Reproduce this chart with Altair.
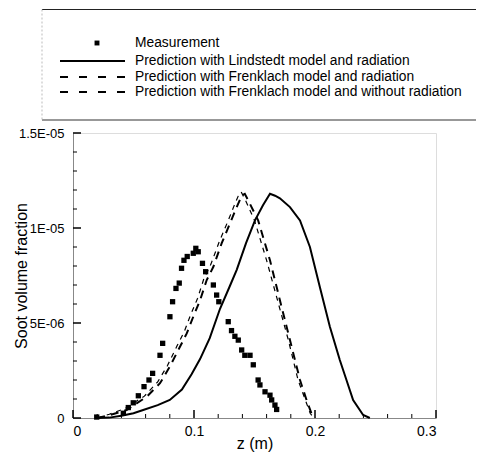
import altair as alt
import pandas as pd

# ---- data (soot volume fraction in units of 1E-06) ----
meas_z = [0.0196, 0.0416, 0.0457, 0.0498, 0.0540, 0.0587, 0.0628, 0.0658, 0.0719, 0.0741,
          0.0801, 0.0823, 0.0851, 0.0878, 0.0897, 0.0917, 0.0944, 0.0994, 0.1015, 0.1035,
          0.1070, 0.1096, 0.1160, 0.1187, 0.1205, 0.1283, 0.1310, 0.1338, 0.1366, 0.1394,
          0.1420, 0.1463, 0.1490, 0.1530, 0.1545, 0.1587, 0.1628, 0.1642, 0.1669, 0.1683]
meas_v = [0.05, 0.25, 0.55, 0.80, 1.17, 1.65, 2.00, 2.35, 3.30, 3.93,
          5.33, 6.12, 6.82, 7.10, 7.88, 8.30, 8.50, 8.67, 8.93, 8.75,
          8.14, 7.70, 7.00, 6.47, 6.12, 5.07, 4.60, 4.30, 4.10, 3.58,
          3.30, 3.30, 2.80, 2.00, 1.74, 1.38, 1.20, 0.95, 0.68, 0.45]

lind_z = [0.020, 0.030, 0.040, 0.050, 0.058, 0.070, 0.080, 0.090, 0.098, 0.105,
          0.113, 0.1215, 0.130, 0.1353, 0.143, 0.1504, 0.157, 0.1628, 0.167, 0.171,
          0.1793, 0.1876, 0.1958, 0.204, 0.2123, 0.2205, 0.226, 0.2315, 0.2398, 0.2453]
lind_v = [0.0, 0.02, 0.12, 0.25, 0.42, 0.68, 0.95, 1.50, 2.30, 3.10,
          4.20, 5.75, 7.00, 7.80, 9.20, 10.40, 11.20, 11.80, 11.70, 11.56,
          11.10, 10.40, 9.00, 6.90, 4.80, 3.05, 2.00, 0.95, 0.16, 0.0]

frad_z = [0.020, 0.0306, 0.0443, 0.061, 0.0719, 0.080, 0.0884, 0.094, 0.0994, 0.105,
          0.1105, 0.116, 0.1229, 0.1297, 0.1353, 0.1394, 0.142, 0.146, 0.153, 0.1628,
          0.171, 0.1793, 0.1876, 0.193, 0.197, 0.200]
frad_v = [0.0, 0.16, 0.42, 1.12, 1.83, 2.70, 3.75, 4.45, 5.33, 6.20,
          7.26, 7.96, 9.20, 10.24, 11.10, 11.70, 11.80, 11.30, 10.40, 8.30,
          6.20, 4.10, 2.00, 0.95, 0.25, 0.0]

fnor_z = [0.020, 0.030, 0.043, 0.059, 0.070, 0.078, 0.086, 0.092, 0.097, 0.103,
          0.108, 0.114, 0.121, 0.128, 0.133, 0.137, 0.139, 0.143, 0.150, 0.160,
          0.169, 0.178, 0.186, 0.192, 0.196, 0.199]
fnor_v = [0.0, 0.20, 0.50, 1.15, 1.90, 2.75, 3.80, 4.55, 5.40, 6.30,
          7.30, 8.10, 9.30, 10.35, 11.15, 11.75, 11.90, 11.40, 10.40, 8.30,
          6.20, 4.10, 2.00, 0.95, 0.25, 0.0]

legend_labels = ["Measurement",
                 "Prediction with Lindstedt model and radiation",
                 "Prediction with Frenklach model and radiation",
                 "Prediction with Frenklach model and without radiation"]

x_major = [0.0, 0.1, 0.2, 0.3]
x_minor = [0.02, 0.04, 0.06, 0.08, 0.12, 0.14, 0.16, 0.18, 0.22, 0.24, 0.26, 0.28]
y_major = [0, 5, 10, 15]
y_major_labels = ["0", "5E-06", "1E-05", "1.5E-05"]
y_minor = [1, 2, 3, 4, 6, 7, 8, 9, 11, 12, 13, 14]

W, H = 363, 285
FONT = "Liberation Sans"

xs = alt.Scale(domain=[0, 0.3], nice=False)
ys = alt.Scale(domain=[0, 15], nice=False)

ylabel_expr = " : ".join(
    [f"datum.value < {v + 0.5} ? '{l}'" for v, l in zip(y_major[:-1], y_major_labels[:-1])]
) + f" : '{y_major_labels[-1]}'"

x_axis = alt.Axis(values=x_major, format="~g", ticks=False, grid=False,
                  labelFontSize=14, labelPadding=6, title="z (m)",
                  titleFontSize=16, titleFontWeight="normal",
                  titleX=W / 2, titleY=25, titleAlign="center", titleBaseline="middle")
y_axis = alt.Axis(values=y_major, labelExpr=ylabel_expr, ticks=False, grid=False,
                  labelFontSize=13, labelPadding=9, title="Soot volume fraction",
                  titleFontSize=16, titleFontWeight="normal",
                  titleX=-52, titleY=H / 2, titleAngle=270, titleAlign="center",
                  titleBaseline="middle")

meas_df = pd.DataFrame({"z": meas_z, "v": meas_v})
lind_df = pd.DataFrame({"z": lind_z, "v": lind_v})
frad_df = pd.DataFrame({"z": frad_z, "v": frad_v})
fnor_df = pd.DataFrame({"z": fnor_z, "v": fnor_v})

base_x = alt.X("z:Q", scale=xs, axis=x_axis)
base_y = alt.Y("v:Q", scale=ys, axis=y_axis)

lind = alt.Chart(lind_df).mark_line(color="black", strokeWidth=2).encode(
    x=base_x, y=base_y, order="z:Q")
frad = alt.Chart(frad_df).mark_line(color="black", strokeWidth=2, strokeDash=[8, 6]).encode(
    x="z:Q", y="v:Q", order="z:Q")
fnor = alt.Chart(fnor_df).mark_line(color="black", strokeWidth=1.2, strokeDash=[5, 5]).encode(
    x="z:Q", y="v:Q", order="z:Q")
meas = alt.Chart(meas_df).mark_point(shape="square", filled=True, color="black",
                                     size=28, opacity=1).encode(x="z:Q", y="v:Q")

# inward ticks
xt_major = alt.Chart(pd.DataFrame({"z": x_major})).mark_rule(color="black", strokeWidth=1.5).encode(
    x="z:Q", y=alt.value(H), y2=alt.value(H - 8))
xt_minor = alt.Chart(pd.DataFrame({"z": x_minor})).mark_rule(color="black", strokeWidth=1).encode(
    x="z:Q", y=alt.value(H), y2=alt.value(H - 4))
yt_major = alt.Chart(pd.DataFrame({"v": y_major})).mark_rule(color="black", strokeWidth=1.5).encode(
    y="v:Q", x=alt.value(0), x2=alt.value(8))
yt_minor = alt.Chart(pd.DataFrame({"v": y_minor})).mark_rule(color="black", strokeWidth=1).encode(
    y="v:Q", x=alt.value(0), x2=alt.value(4))

# legend box and entries (outside the plot area, above)
one = pd.DataFrame({"k": [0]})
box_top = alt.Chart(one).mark_rule(color="#222", strokeWidth=1.2).encode(
    x=alt.value(-31), x2=alt.value(430), y=alt.value(-123.5))
box_bot = alt.Chart(one).mark_rule(color="#333", strokeWidth=1.2).encode(
    x=alt.value(-31), x2=alt.value(430), y=alt.value(-13))
box_left = alt.Chart(one).mark_rule(color="#bbbbbb", strokeWidth=1, strokeDash=[2, 2]).encode(
    x=alt.value(-31), y=alt.value(-123.5), y2=alt.value(-13))

leg_sq = alt.Chart(one).mark_point(shape="square", filled=True, color="black", size=24, opacity=1).encode(
    x=alt.value(24), y=alt.value(-90))
leg_l1 = alt.Chart(one).mark_rule(color="black", strokeWidth=2).encode(
    x=alt.value(-13), x2=alt.value(52), y=alt.value(-72))
leg_l2 = alt.Chart(one).mark_rule(color="black", strokeWidth=2, strokeDash=[8, 11]).encode(
    x=alt.value(-13), x2=alt.value(52), y=alt.value(-56))
leg_l3 = alt.Chart(one).mark_rule(color="black", strokeWidth=2, strokeDash=[8, 11]).encode(
    x=alt.value(-13), x2=alt.value(52), y=alt.value(-41))

leg_ys = [-90, -72, -56, -41]
leg_texts = [
    alt.Chart(one).mark_text(align="left", baseline="middle", fontSize=13.8, font=FONT,
                             color="black").encode(
        x=alt.value(62), y=alt.value(yy), text=alt.value(lab))
    for lab, yy in zip(legend_labels, leg_ys)
]

chart = alt.layer(
    lind, frad, fnor, meas,
    xt_major, xt_minor, yt_major, yt_minor,
    box_top, box_bot, box_left, leg_sq, leg_l1, leg_l2, leg_l3, *leg_texts
).properties(
    width=W, height=H,
    autosize=alt.AutoSizeParams(type="none"),
    padding={"left": 65, "top": 125, "right": 40, "bottom": 34},
).configure_view(
    stroke=None
).configure_axis(
    domainColor="black", domainWidth=1.6, labelColor="black", titleColor="black",
    labelFont=FONT, titleFont=FONT
).configure(background="white")

chart.save("out.html", embed_options={"renderer": "svg", "actions": False})
